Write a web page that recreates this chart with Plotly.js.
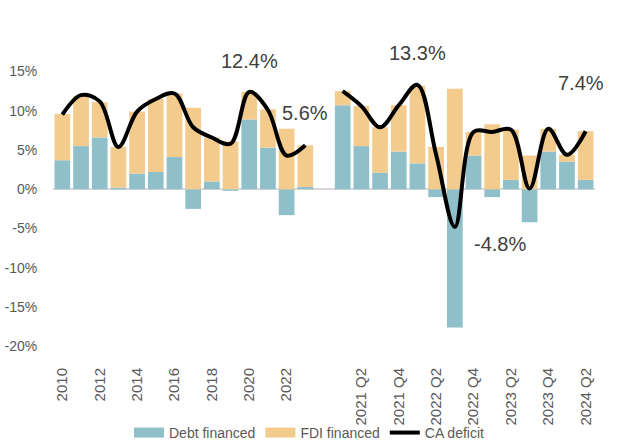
<!DOCTYPE html>
<html>
<head>
<meta charset="utf-8">
<script src="https://cdn.plot.ly/plotly-3.0.1.min.js"></script>
<style>html,body{margin:0;padding:0;background:#fff}#chart{width:619px;height:440px}</style>
</head>
<body>
<div id="chart"></div>
<script>
// Categories: annual 2010-2023, a spacer, then quarterly 2021 Q1 - 2024 Q2
var annualCats = ["2010","2011","2012","2013","2014","2015","2016","2017","2018","2019","2020","2021","2022","2023"];
var gapCat = [" "];
var quarterCats = ["2021 Q1","2021 Q2","2021 Q3","2021 Q4","2022 Q1","2022 Q2","2022 Q3","2022 Q4","2023 Q1","2023 Q2","2023 Q3","2023 Q4","2024 Q1","2024 Q2"];

// Values in % of GDP
var debtAnnual = [3.7, 5.5, 6.6, 0.2, 2.0, 2.2, 4.1, -2.5, 1.0, -0.2, 8.9, 5.3, -3.3, 0.3];
var fdiAnnual  = [5.9, 6.4, 4.5, 5.2, 7.9, 9.3, 8.1, 10.4, 5.6, 6.1, 3.5, 4.9, 7.7, 5.3];
var caAnnual   = [9.5, 12.0, 11.2, 5.4, 9.9, 11.5, 12.2, 7.9, 6.6, 5.8, 12.4, 10.1, 4.3, 5.6];

var debtQuarter = [10.7, 5.5, 2.1, 4.8, 3.3, -1.0, -17.6, 4.3, -1.0, 1.2, -4.2, 4.8, 3.5, 1.2];
var fdiQuarter  = [1.8, 5.1, 5.8, 5.9, 9.9, 5.4, 12.8, 3.0, 8.3, 6.4, 4.3, 2.9, 0.9, 6.2];
var caQuarter   = [12.5, 10.6, 7.9, 10.7, 13.3, 4.4, -4.8, 7.3, 7.3, 7.6, 0.1, 7.7, 4.4, 7.4];

var tickLabels = ["2010","2012","2014","2016","2018","2020","2022","2021 Q2","2021 Q4","2022 Q2","2022 Q4","2023 Q2","2023 Q4","2024 Q2"];
var yTicks = [-20, -15, -10, -5, 0, 5, 10, 15];
var yTickText = ["-20%", "-15%", "-10%", "-5%", "0%", "5%", "10%", "15%"];

// Labelled points
var labelCats = ["2020", "2023", "2022 Q1", "2022 Q3", "2024 Q2"];
var labelTexts = ["12.4%", "5.6%", "13.3%", "-4.8%", "7.4%"];

var seriesNames = ["Debt financed", "FDI financed", "CA deficit"];
var seriesColors = ["#8FBFC9", "#F3CB8D", "#000000"];

var cats = annualCats.concat(gapCat, quarterCats);
var debt = debtAnnual.concat([null], debtQuarter);
var fdi = fdiAnnual.concat([null], fdiQuarter);
var ca = caAnnual.concat([null], caQuarter);

var font = "Liberation Sans";

var traces = [
  {type:"bar", name:seriesNames[0], x:cats, y:debt, marker:{color:seriesColors[0]}, showlegend:false},
  {type:"bar", name:seriesNames[1], x:cats, y:fdi, marker:{color:seriesColors[1]}, showlegend:false},
  {type:"scatter", mode:"lines", name:seriesNames[2], x:cats, y:ca, connectgaps:false,
   line:{color:seriesColors[2], width:4, shape:"spline", smoothing:1}, showlegend:false},
  // legend entries
  {type:"scatter", mode:"lines", name:seriesNames[0], x:[null], y:[null], line:{color:seriesColors[0], width:10}},
  {type:"scatter", mode:"lines", name:seriesNames[1], x:[null], y:[null], line:{color:seriesColors[1], width:10}},
  {type:"scatter", mode:"lines", name:seriesNames[2], x:[null], y:[null], line:{color:seriesColors[2], width:4}}
];

// label placement offsets (pixels) relative to each labelled point
var labelDX = [0, 0, 0, 45, -5];
var labelDY = [31, 32, 32, -17, 48];

var annotations = labelCats.map(function(c, i){
  var idx = cats.indexOf(c);
  return {x:idx, y:ca[idx], xref:"x", yref:"y", text:labelTexts[i], showarrow:false,
          xshift:labelDX[i], yshift:labelDY[i],
          font:{family:font, size:20, color:"#404040"}, xanchor:"center", yanchor:"middle"};
});

var layout = {
  width:619, height:440,
  margin:{l:53, r:24, t:48, b:82},
  paper_bgcolor:"#ffffff", plot_bgcolor:"#ffffff",
  barmode:"relative", bargap:0.16,
  font:{family:font, color:"#595959"},
  showlegend:true,
  legend:{orientation:"h", x:0.5, xanchor:"center", xref:"container", yref:"container", y:0.016, yanchor:"middle",
          font:{family:font, size:14, color:"#595959"}, traceorder:"normal", bgcolor:"rgba(0,0,0,0)"},
  xaxis:{type:"category", range:[-0.5, cats.length - 0.5], autorange:false,
         tickmode:"array", tickvals:tickLabels, ticktext:tickLabels,
         tickangle:-90, tickfont:{family:font, size:15, color:"#595959"},
         showgrid:false, showline:false, ticks:"outside", ticklen:3, tickcolor:"rgba(0,0,0,0)",
         zeroline:false, automargin:false},
  yaxis:{range:[-21.5, 18], autorange:false, tickmode:"array", tickvals:yTicks, ticktext:yTickText,
         tickfont:{family:font, size:14, color:"#595959"},
         showgrid:false, showline:false, ticks:"outside", ticklen:12, tickcolor:"rgba(0,0,0,0)",
         zeroline:true, zerolinecolor:"#D9D9D9", zerolinewidth:2, automargin:false},
  annotations:annotations
};

Plotly.newPlot("chart", traces, layout, {displayModeBar:false, staticPlot:true});
</script>
</body>
</html>
